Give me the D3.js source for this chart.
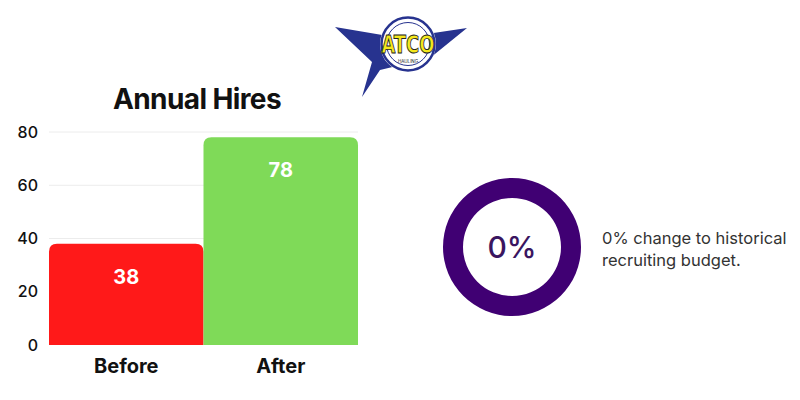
<!DOCTYPE html>
<html><head><meta charset="utf-8">
<script src="https://cdn.jsdelivr.net/npm/d3@7"></script>
<style>
html,body{margin:0;padding:0;background:#fff;}
svg{display:block;}
</style></head>
<body>
<svg id="chart" width="800" height="400"></svg>
<script>
const categories = ["Before", "After"];
const values = [38, 78];
const barColors = ["#FF1919", "#7FDA58"];
const yTicks = [0, 20, 40, 60, 80];
const title = "Annual Hires";
const donutValue = [100];
const donutLabel = "0%";
const noteLines = ["0% change to historical", "recruiting budget."];

const svg = d3.select("#chart");
const font = "Inter, 'Noto Sans', sans-serif";

// Logo
const logo = svg.append("g");
logo.append("polygon")
  .attr("points", "335,27 400,38 467,28 430,58 380,70 362,97 372,62")
  .attr("fill", "#27338F");
logo.append("circle").attr("cx", 408).attr("cy", 44).attr("r", 28).attr("fill", "#fff");
logo.append("circle").attr("cx", 408).attr("cy", 44).attr("r", 26.5).attr("fill", "none").attr("stroke", "#27338F").attr("stroke-width", 2.5);
logo.append("circle").attr("cx", 408).attr("cy", 44).attr("r", 21.5).attr("fill", "none").attr("stroke", "#27338F").attr("stroke-width", 1);
logo.append("text").attr("x", 408).attr("y", 53).attr("text-anchor", "middle")
  .attr("font-family", "'Liberation Sans Narrow', 'DejaVu Sans Condensed', sans-serif")
  .attr("font-weight", "bold").attr("font-size", 25).attr("fill", "#F5E81C")
  .attr("stroke", "#222").attr("stroke-width", 0.9).attr("textLength", 53).attr("lengthAdjust", "spacingAndGlyphs")
  .text("ATCO");
logo.append("text").attr("x", 408).attr("y", 63).attr("text-anchor", "middle")
  .attr("font-family", font).attr("font-size", 4.5).attr("fill", "#222").text("HAULING");

// Bar chart
const m = {left: 49, right: 358, top: 132, bottom: 345};
const x = d3.scaleBand().domain(categories).range([m.left, m.right]).padding(0);
const y = d3.scaleLinear().domain([0, 80]).range([m.bottom, m.top]);

svg.append("text").attr("x", 197).attr("y", 109).attr("text-anchor", "middle")
  .attr("font-family", font).attr("font-weight", 700).attr("font-size", 28).attr("fill", "#111")
  .attr("letter-spacing", "-0.6").text(title);

svg.append("g").selectAll("line").data(yTicks.filter(d => d > 0)).join("line")
  .attr("x1", m.left).attr("x2", m.right)
  .attr("y1", d => y(d)).attr("y2", d => y(d))
  .attr("stroke", "#ececec").attr("stroke-width", 1);

const yAxis = svg.append("g").attr("transform", `translate(${m.left},0)`)
  .call(d3.axisLeft(y).tickValues(yTicks).tickSize(0).tickPadding(11));
yAxis.select(".domain").remove();
yAxis.selectAll("text").attr("font-family", font).attr("font-size", 16).attr("fill", "#111").attr("font-weight", 500);

const r = 8;
function barPath(d, i) {
  const x0 = x(categories[i]), w = x.bandwidth(), y0 = y(d), y1 = y(0);
  return `M${x0},${y1} L${x0},${y0 + r} Q${x0},${y0} ${x0 + r},${y0} L${x0 + w - r},${y0} Q${x0 + w},${y0} ${x0 + w},${y0 + r} L${x0 + w},${y1} Z`;
}
svg.append("g").selectAll("path").data(values).join("path")
  .attr("d", barPath).attr("fill", (d, i) => barColors[i]);

svg.append("g").selectAll("text").data(values).join("text")
  .attr("x", (d, i) => x(categories[i]) + x.bandwidth() / 2)
  .attr("y", d => y(d) + 40)
  .attr("text-anchor", "middle").attr("font-family", font).attr("font-weight", 700)
  .attr("font-size", 20).attr("fill", "#fff").text(d => d);

const xAxis = svg.append("g").attr("transform", `translate(0,${m.bottom})`)
  .call(d3.axisBottom(x).tickSize(0).tickPadding(14));
xAxis.select(".domain").remove();
xAxis.selectAll("text").attr("font-family", font).attr("font-size", 20).attr("font-weight", 700).attr("fill", "#111");

// Donut
const cx = 512, cy = 247;
const arc = d3.arc().innerRadius(49).outerRadius(69);
const pie = d3.pie().sort(null);
svg.append("g").attr("transform", `translate(${cx},${cy})`)
  .selectAll("path").data(pie(donutValue)).join("path")
  .attr("d", arc).attr("fill", "#400073");
svg.append("text").attr("x", cx).attr("y", cy + 11).attr("text-anchor", "middle")
  .attr("font-family", font).attr("font-size", 30).attr("font-weight", 500).attr("fill", "#3A1560")
  .text(donutLabel);

svg.append("g").selectAll("text").data(noteLines).join("text")
  .attr("x", 602).attr("y", (d, i) => 244 + i * 22)
  .attr("font-family", font).attr("font-size", 16.5).attr("fill", "#333").text(d => d);
</script>
</body></html>
